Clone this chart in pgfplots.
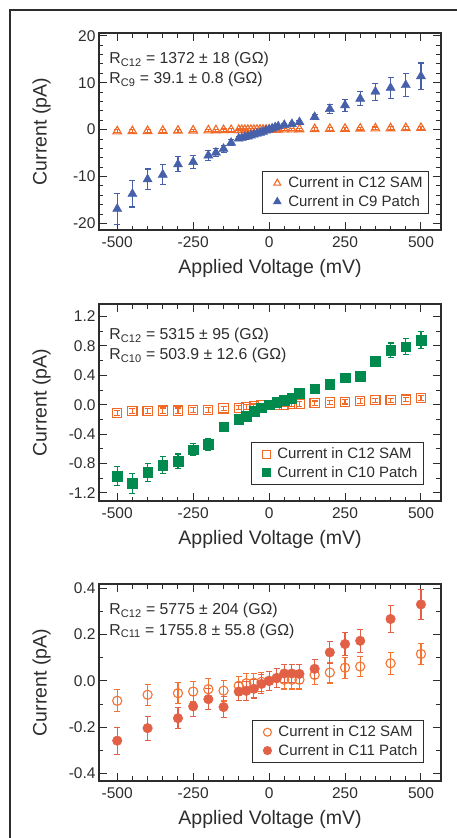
\documentclass[border=0pt]{standalone}
\usepackage{fontspec}
\setmainfont{Liberation Sans}
\usepackage{pgfplots}
\usepackage{pgfplotstable}
\pgfplotsset{compat=1.18}

\definecolor{samorange}{RGB}{242,104,38}
\definecolor{samorangeB}{RGB}{244,114,50}
\definecolor{cnine}{RGB}{70,96,170}
\definecolor{cten}{RGB}{0,138,78}
\definecolor{celeven}{RGB}{226,96,70}
\definecolor{ink}{RGB}{45,45,45}

% x  sam  samerr  patch  patcherr
\pgfplotstableread{
x sam se p pe
-500 -0.36 0.3 -16.9 3.3
-450 -0.33 0.3 -13.7 2.8
-400 -0.29 0.3 -10.6 2.2
-350 -0.26 0.3 -9.6 2.1
-300 -0.22 0.3 -7.4 1.6
-250 -0.18 0.3 -6.9 1.3
-200 -0.15 0.25 -5.5 1.0
-175 -0.13 0.25 -4.9 0.9
-150 -0.11 0.25 -4.1 0.8
-125 -0.09 0.25 -2.8 0.6
-100 -0.07 0.2 -1.9 0.5
-90 -0.07 0.2 -1.8 0.4
-80 -0.06 0.2 -1.6 0.4
-70 -0.05 0.2 -1.45 0.35
-60 -0.04 0.2 -1.25 0.3
-50 -0.04 0.2 -1.05 0.3
-40 -0.03 0.2 -0.85 0.25
-30 -0.02 0.2 -0.65 0.2
-20 -0.01 0.2 -0.45 0.2
-10 -0.01 0.2 -0.2 0.2
0 0.0 0.2 0.0 0.2
10 0.01 0.2 0.25 0.2
20 0.01 0.2 0.5 0.2
30 0.02 0.2 0.7 0.2
50 0.04 0.2 1.0 0.3
75 0.05 0.2 1.2 0.3
100 0.07 0.2 1.6 0.4
150 0.11 0.25 2.7 0.6
200 0.15 0.25 4.4 1.0
250 0.18 0.3 5.2 1.3
300 0.22 0.3 6.6 1.5
350 0.26 0.3 8.1 1.8
400 0.29 0.3 8.9 2.2
450 0.33 0.3 9.5 2.4
500 0.36 0.3 11.4 2.8
}\tabnine

\pgfplotstableread{
x sam se p pe
-500 -0.11 0.035 -0.97 0.13
-450 -0.09 0.035 -1.07 0.14
-400 -0.09 0.035 -0.92 0.12
-350 -0.08 0.035 -0.82 0.11
-300 -0.08 0.035 -0.77 0.10
-250 -0.07 0.03 -0.61 0.08
-200 -0.07 0.03 -0.54 0.08
-150 -0.05 0.03 -0.30 0.03
-100 -0.04 0.03 -0.20 0.03
-75 -0.03 0.03 -0.16 0.03
-50 -0.02 0.03 -0.09 0.02
-25 -0.01 0.03 -0.04 0.02
0 0.0 0.03 0.0 0.02
25 0.0 0.03 0.035 0.02
50 0.0 0.03 0.06 0.02
75 0.01 0.03 0.09 0.02
100 0.01 0.03 0.16 0.03
150 0.02 0.03 0.22 0.03
200 0.03 0.03 0.28 0.03
250 0.04 0.03 0.37 0.04
300 0.05 0.03 0.39 0.04
350 0.06 0.03 0.59 0.06
400 0.06 0.03 0.74 0.10
450 0.07 0.03 0.79 0.11
500 0.09 0.03 0.88 0.12
}\tabten

\pgfplotstableread{
x sam se p pe
-500 -0.086 0.048 -0.258 0.058
-400 -0.060 0.045 -0.204 0.052
-300 -0.053 0.045 -0.161 0.046
-250 -0.046 0.045 -0.110 0.045
-200 -0.036 0.045 -0.079 0.045
-150 -0.042 0.045 -0.113 0.045
-100 -0.021 0.04 -0.046 0.04
-75 -0.010 0.04 -0.043 0.04
-50 -0.008 0.04 -0.034 0.04
-25 -0.004 0.04 -0.013 0.04
0 0.0 0.04 0.0 0.04
25 0.012 0.04 0.012 0.04
50 0.005 0.04 0.032 0.04
75 0.005 0.04 0.032 0.04
100 0.005 0.04 0.030 0.04
150 0.026 0.04 0.052 0.04
200 0.036 0.045 0.123 0.047
250 0.057 0.045 0.159 0.05
300 0.062 0.045 0.173 0.05
400 0.076 0.047 0.267 0.06
500 0.116 0.045 0.330 0.065
}\tabeleven

\pgfplotsset{
  panel/.style={
    scale only axis, width=342pt, height=197pt,
    xmin=-560, xmax=566,
    xtick={-500,-250,0,250,500},
    minor x tick num=4,
    tick align=inside,
    xtick pos=both, ytick pos=both,
    major tick length=8pt, minor tick length=4.5pt,
    every tick/.style={line width=1pt, ink},
    axis line style={line width=1.1pt, ink},
    tick label style={font=\fontsize{15.5}{17}\selectfont, ink,
      /pgf/number format/assume math mode=true},
    xticklabel style={yshift=-3pt},
    label style={font=\fontsize{19.5}{21}\selectfont, ink},
    xlabel={Applied Voltage (mV)},
    ylabel={Current (pA)},
    xlabel style={at={(axis description cs:0.5,-0.195)}, anchor=center},
    ylabel style={at={(axis description cs:-0.168,0.5)}, anchor=center},
    legend style={draw=ink, line width=1pt, fill=white,
      font=\fontsize{15}{17}\selectfont, text=ink,
      anchor=south east, row sep=2pt, inner xsep=4pt, inner ysep=4pt},
    legend cell align=left,
    legend image code/.code={%
      \path[draw=none, fill=none] (-11pt,0pt) -- (9pt,0pt);
      \draw[#1, mark size=4pt] plot[only marks] coordinates {(0pt,0pt)};},
    error bars/error bar style={line width=1.1pt},
    error bars/error mark options={rotate=90, line width=1.1pt, mark size=3pt},
  },
}
\tikzset{
  note/.style={anchor=base west, inner sep=0pt, font=\fontsize{15.8}{19}\selectfont, text=ink},
}

\begin{document}
\begin{tikzpicture}
\useasboundingbox (0,0) rectangle (457pt,-838pt);
\draw[line width=1.6pt, ink] (10pt,-900pt) -- (10pt,-10pt) -- (520pt,-10pt);

% panel 1: C12 SAM vs C9 patch
\begin{axis}[panel, at={(99pt,-33pt)}, anchor=north west,
    ymin=-21.4, ymax=20.6,
    ytick={-20,-10,0,10,20}, minor y tick num=4,
    legend style={at={(rel axis cs:0.965,0.08)}}]
\addplot[only marks, mark=triangle, mark size=5pt, samorange,
    mark options={line width=1.1pt},
    error bars/.cd, y dir=both, y explicit]
    table[x=x, y=sam, y error=se] {\tabnine};
\addlegendentry{Current in C12 SAM}
\addplot[only marks, mark=triangle*, mark size=5.3pt, cnine,
    error bars/.cd, y dir=both, y explicit]
    table[x=x, y=p, y error=pe] {\tabnine};
\addlegendentry{Current in C9 Patch}
\node[note] at (rel axis cs:0.03,0.846) {R\textsubscript{C12} = 1372 ± 18 (GΩ)};
\node[note] at (rel axis cs:0.03,0.745) {R\textsubscript{C9} = 39.1 ± 0.8 (GΩ)};
\end{axis}

% panel 2: C12 SAM vs C10 patch
\begin{axis}[panel, at={(99pt,-304pt)}, anchor=north west,
    ymin=-1.31, ymax=1.37,
    ytick={-1.2,-0.8,-0.4,0,0.4,0.8,1.2}, minor y tick num=1,
    yticklabel style={/pgf/number format/.cd, fixed, fixed zerofill, precision=1},
    legend style={at={(rel axis cs:0.95,0.08)}}]
\addplot[only marks, mark=square, mark size=4.6pt, samorange,
    mark options={line width=1.1pt},
    error bars/.cd, y dir=both, y explicit]
    table[x=x, y=sam, y error=se] {\tabten};
\addlegendentry{Current in C12 SAM}
\addplot[only marks, mark=square*, mark size=4.8pt, cten,
    error bars/.cd, y dir=both, y explicit]
    table[x=x, y=p, y error=pe] {\tabten};
\addlegendentry{Current in C10 Patch}
\node[note] at (rel axis cs:0.03,0.82) {R\textsubscript{C12} = 5315 ± 95 (GΩ)};
\node[note] at (rel axis cs:0.03,0.717) {R\textsubscript{C10} = 503.9 ± 12.6 (GΩ)};
\end{axis}

% panel 3: C12 SAM vs C11 patch
\begin{axis}[panel, at={(99pt,-584pt)}, anchor=north west,
    ymin=-0.432, ymax=0.418,
    ytick={-0.4,-0.2,0,0.2,0.4}, minor y tick num=1,
    yticklabel style={/pgf/number format/.cd, fixed, fixed zerofill, precision=1},
    legend style={at={(rel axis cs:0.95,0.09)}}]
\addplot[only marks, mark=o, mark size=4.6pt, samorangeB,
    mark options={line width=1.1pt},
    error bars/.cd, y dir=both, y explicit]
    table[x=x, y=sam, y error=se] {\tabeleven};
\addlegendentry{Current in C12 SAM}
\addplot[only marks, mark=*, mark size=4.8pt, celeven,
    error bars/.cd, y dir=both, y explicit]
    table[x=x, y=p, y error=pe] {\tabeleven};
\addlegendentry{Current in C11 Patch}
\node[note] at (rel axis cs:0.03,0.843) {R\textsubscript{C12} = 5775 ± 204 (GΩ)};
\node[note] at (rel axis cs:0.03,0.741) {R\textsubscript{C11} = 1755.8 ± 55.8 (GΩ)};
\end{axis}
\end{tikzpicture}
\end{document}
